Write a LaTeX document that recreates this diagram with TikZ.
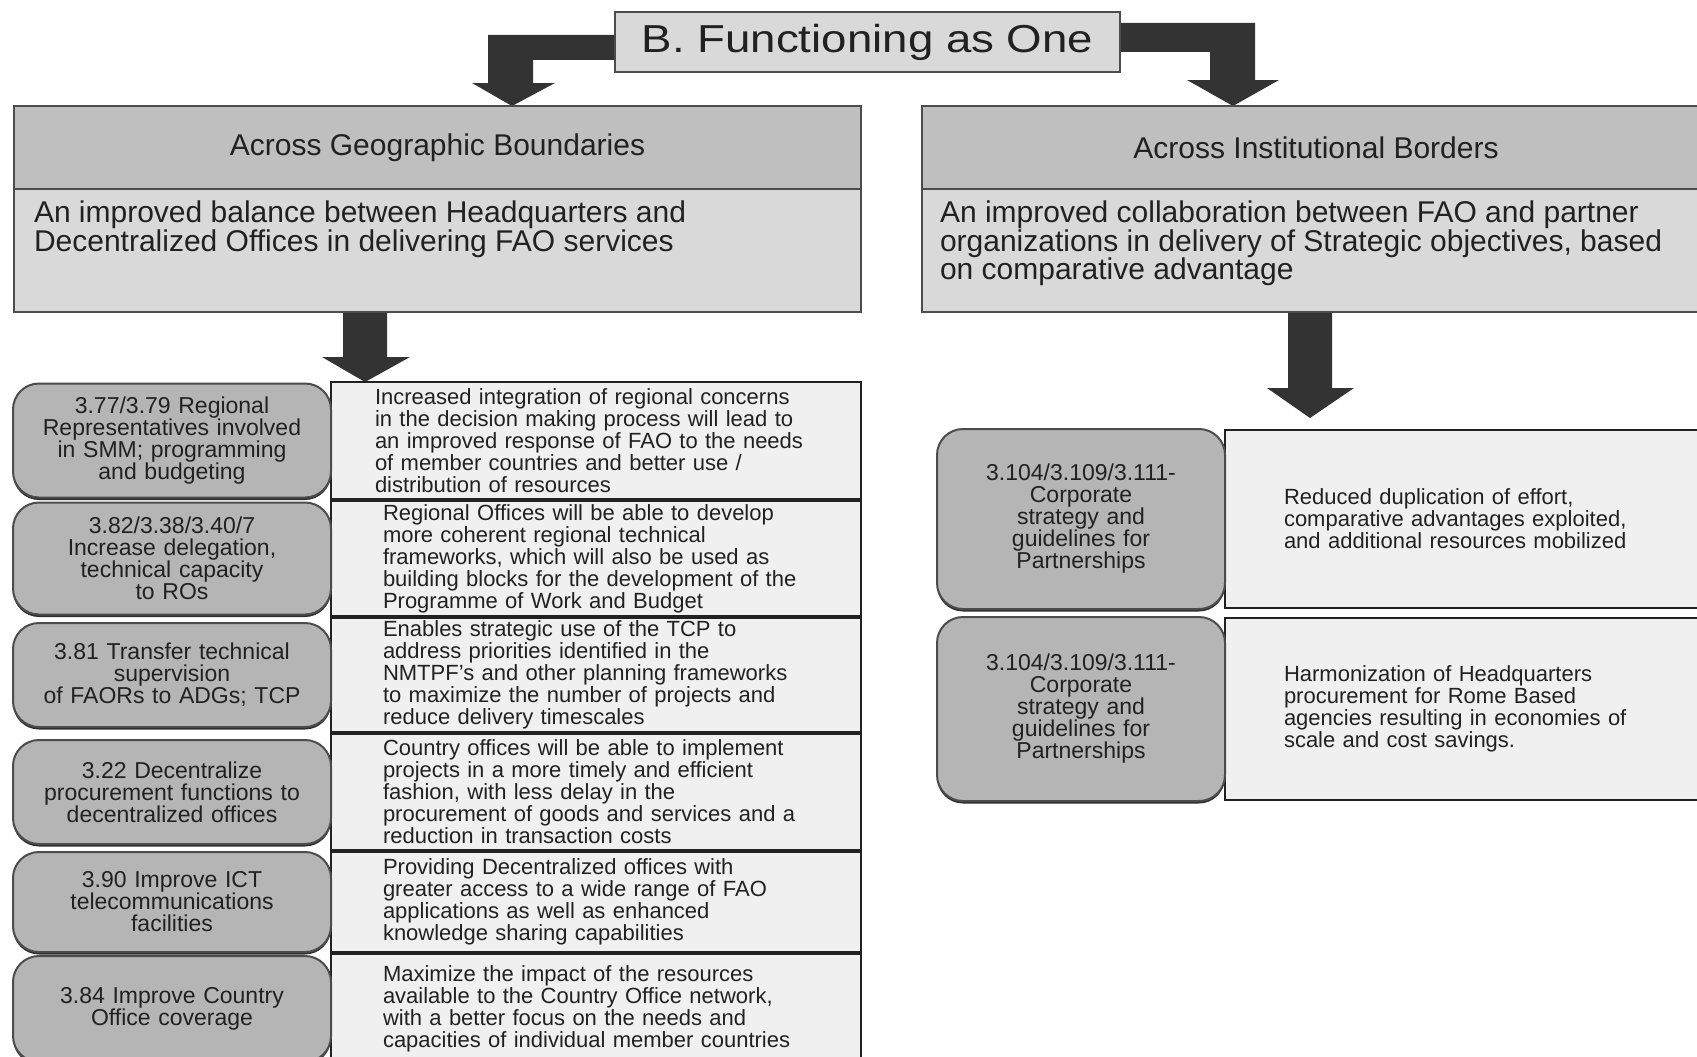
\documentclass[tikz,border=0pt]{standalone}
\usepackage{fontspec}
\setmainfont{Liberation Sans}
\newfontfamily\faowide[FakeStretch=1.17]{Liberation Sans}
\usetikzlibrary{positioning,shadows,backgrounds}
\definecolor{FaoInk}{gray}{0.13}
\definecolor{FaoEdge}{gray}{0.30}
\definecolor{FaoArrow}{gray}{0.20}
\definecolor{FaoTitle}{gray}{0.85}
\definecolor{FaoHead}{gray}{0.75}
\definecolor{FaoBody}{gray}{0.85}
\definecolor{FaoAction}{gray}{0.71}
\definecolor{FaoEffect}{gray}{0.94}
\definecolor{FaoShadow}{gray}{0.18}
\tikzset{
    fao/diagram/.style={
        text=FaoInk,
        line join=miter,
        every node/.style={inner sep=0pt, outer sep=0pt}
    },
    fao/title/.style={
        draw=FaoEdge, fill=FaoTitle, line width=2.5pt,
        minimum width=505pt, minimum height=60pt,
        font=\faowide\fontsize{39}{42}\selectfont
    },
    fao/head/.style={
        draw=FaoEdge, fill=FaoHead, line width=2.5pt,
        minimum height=83pt, font=\fontsize{30}{34}\selectfont
    },
    fao/body/.style={
        draw=FaoEdge, fill=FaoBody, line width=2.5pt,
        minimum height=123pt
    },
    fao/goal/.style={
        align=left, font=\fontsize{30}{28.5}\selectfont
    },
    fao/action/.style={
        draw=FaoEdge, fill=FaoAction, line width=2pt,
        rounded corners=26pt, align=center,
        font=\fontsize{23}{22}\selectfont,
        drop shadow={shadow xshift=0pt, shadow yshift=-2.5pt,
            fill=FaoShadow, opacity=1}
    },
    fao/effect/.style={
        draw=FaoInk, fill=FaoEffect, line width=2.5pt,
        align=left, font=\fontsize{22}{22}\selectfont
    },
    fao/arrow/.style={fill=FaoArrow, draw=none}
}
\begin{document}
\begin{tikzpicture}[fao/diagram, x=1pt, y=-1pt]
    \useasboundingbox (0,0) rectangle (1697,1057);
    \node[fao/title] (title) at (867.5,42) {B. Functioning as One};
    % two columns
    \node[fao/head, minimum width=847pt, anchor=north west] (geoHead) at (14,106)
        {Across Geographic Boundaries};
    \node[fao/body, minimum width=847pt, below=0pt of geoHead] (geoBody) {};
    \node[fao/goal, anchor=north west] (geoGoal) at ([shift={(20,12)}]geoBody.north west)
        {An improved balance between Headquarters and\\
         Decentralized Offices in delivering FAO services};
    \node[fao/head, minimum width=788pt, anchor=north west] (instHead) at (922,106)
        {Across Institutional Borders};
    \node[fao/body, minimum width=788pt, below=0pt of instHead] (instBody) {};
    \node[fao/goal, anchor=north west] (instGoal) at ([shift={(18,12)}]instBody.north west)
        {An improved collaboration between FAO and partner\\
         organizations in delivery of Strategic objectives, based\\
         on comparative advantage};
    % left rows
    \begin{scope}[every node/.append style={inner xsep=52pt, text width=426pt, minimum width=530pt}]
        \node[fao/effect, minimum height=117pt, anchor=north west,
              inner xsep=44pt, text width=442pt] (geoEffA) at (331,382)
            {Increased integration of regional concerns\\
             in the decision making process will lead to\\
             an improved response of FAO to the needs\\
             of member countries and better use /\\
             distribution of resources};
        \node[fao/effect, minimum height=115pt, below=2pt of geoEffA] (geoEffB)
            {Regional Offices will be able to develop\\
             more coherent regional technical\\
             frameworks, which will also be used as\\
             building blocks for the development of the\\
             Programme of Work and Budget};
        \node[fao/effect, minimum height=114pt, below=2pt of geoEffB] (geoEffC)
            {Enables strategic use of the TCP to\\
             address priorities identified in the\\
             NMTPF's and other planning frameworks\\
             to maximize the number of projects and\\
             reduce delivery timescales};
        \node[fao/effect, minimum height=116pt, below=2pt of geoEffC] (geoEffD)
            {Country offices will be able to implement\\
             projects in a more timely and efficient\\
             fashion, with less delay in the\\
             procurement of goods and services and a\\
             reduction in transaction costs};
        \node[fao/effect, minimum height=100pt, below=2pt of geoEffD] (geoEffE)
            {Providing Decentralized offices with\\
             greater access to a wide range of FAO\\
             applications as well as enhanced\\
             knowledge sharing capabilities};
        \node[fao/effect, minimum height=110pt, below=2pt of geoEffE] (geoEffF)
            {Maximize the impact of the resources\\
             available to the Country Office network,\\
             with a better focus on the needs and\\
             capacities of individual member countries};
    \end{scope}
    \begin{scope}[every node/.append style={text width=300pt, minimum width=318pt}]
        \node[fao/action, minimum height=114pt, left=0pt of geoEffA] (geoActA)
            {3.77/3.79 Regional\\Representatives involved\\in SMM; programming\\and budgeting};
        \node[fao/action, minimum height=112pt, left=0pt of geoEffB] (geoActB)
            {3.82/3.38/3.40/7\\Increase delegation,\\technical capacity\\to ROs};
        \node[fao/action, minimum height=104pt, left=0pt of geoEffC] (geoActC)
            {3.81 Transfer technical\\supervision\\of FAORs to ADGs; TCP};
        \node[fao/action, minimum height=104pt, left=0pt of geoEffD] (geoActD)
            {3.22 Decentralize\\procurement functions to\\decentralized offices};
        \node[fao/action, minimum height=100pt, left=0pt of geoEffE] (geoActE)
            {3.90 Improve ICT\\telecommunications\\facilities};
        \node[fao/action, minimum height=106pt, left=0pt of geoEffF] (geoActF)
            {3.84 Improve Country\\Office coverage};
    \end{scope}
    % right rows
    \begin{scope}[every node/.append style={inner xsep=59pt, text width=367pt, minimum width=485pt,
            font=\fontsize{23}{21.5}\selectfont}]
        \node[fao/effect, minimum height=178pt, anchor=north west] (instEffA) at (1225,430)
            {Reduced duplication of effort,\\
             comparative advantages exploited,\\
             and additional resources mobilized};
        \node[fao/effect, minimum height=182pt, below=10pt of instEffA] (instEffB)
            {Harmonization of Headquarters\\
             procurement for Rome Based\\
             agencies resulting in economies of\\
             scale and cost savings.};
    \end{scope}
    \begin{scope}[every node/.append style={text width=270pt, minimum width=288pt}]
        \node[fao/action, minimum height=180pt, left=0pt of instEffA] (instActA)
            {3.104/3.109/3.111-\\Corporate\\strategy and\\guidelines for\\Partnerships};
        \node[fao/action, minimum height=184pt, left=0pt of instEffB] (instActB)
            {3.104/3.109/3.111-\\Corporate\\strategy and\\guidelines for\\Partnerships};
    \end{scope}
    % block arrows
    \coordinate (instTip) at (1310,418);
    \begin{scope}[on background layer]
        \fill[fao/arrow] (title.west |- 0,35) -- (488,35) -- (488,83) -- (472,83)
            -- (512,0 |- geoHead.north) -- (555,83) -- (533,83) -- (533,60)
            -- (title.west |- 0,60) -- cycle;
        \fill[fao/arrow] (title.east |- 0,23) -- (1255,23) -- (1255,80) -- (1279,80)
            -- (1233,0 |- instHead.north) -- (1187,80) -- (1210,80) -- (1210,52)
            -- (title.east |- 0,52) -- cycle;
        \fill[fao/arrow] (geoBody.south -| 343,0) -- (343,357) -- (322,357)
            -- (365,0 |- geoEffA.north) -- (410,357) -- (387,357)
            -- (geoBody.south -| 387,0) -- cycle;
        \fill[fao/arrow] (instBody.south -| 1288,0) -- (1288,388) -- (1267,388)
            -- (instTip) -- (1354,388) -- (1332,388)
            -- (instBody.south -| 1332,0) -- cycle;
    \end{scope}
\end{tikzpicture}
\end{document}
